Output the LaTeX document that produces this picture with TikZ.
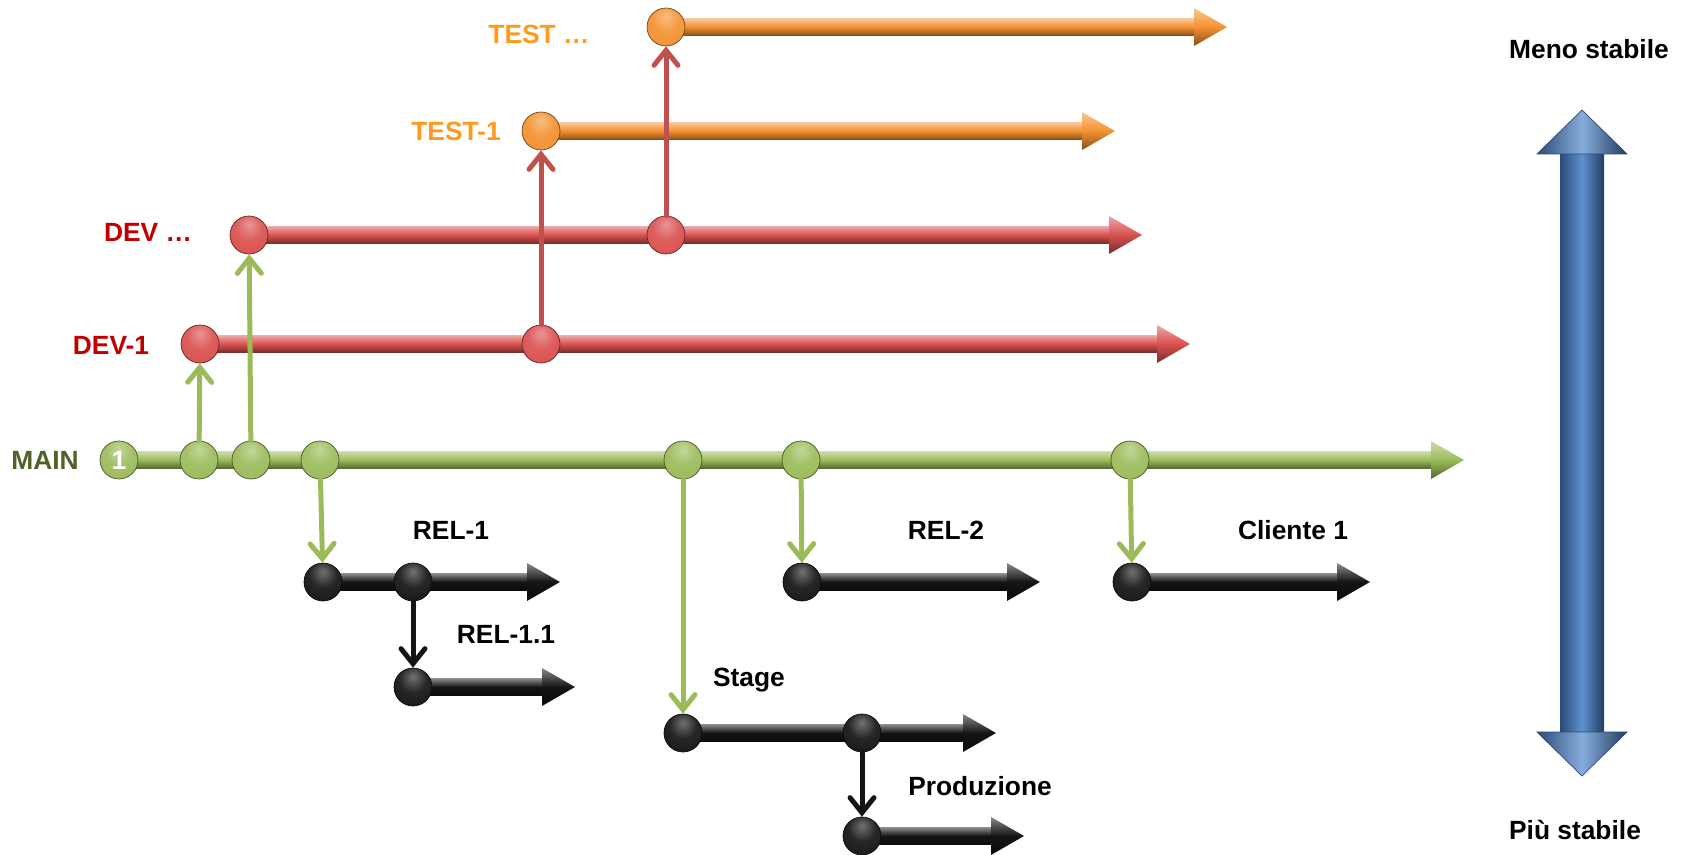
\documentclass[tikz,border=0pt]{standalone}
\usepackage{fontspec}
\setmainfont{Liberation Sans}
\usetikzlibrary{calc, arrows.meta, backgrounds}

\definecolor{mainline}{HTML}{9BBB59}
\definecolor{mainlabel}{HTML}{4F6228}
\definecolor{devline}{HTML}{D9504E}
\definecolor{devlink}{HTML}{C0504D}
\definecolor{devlabel}{HTML}{C00000}
\definecolor{testline}{HTML}{F39130}
\definecolor{testlabel}{HTML}{FF9A1F}
\definecolor{relline}{HTML}{141414}
\definecolor{stableblue}{HTML}{5E91D2}
\definecolor{stabledark}{HTML}{2B4B75}

\makeatletter
\pgfdeclareradialshading[tikz@ball]{commitball}{\pgfqpoint{0bp}{14bp}}{%
	color(0bp)=(tikz@ball!60!white); color(18bp)=(tikz@ball!92!white);
	color(42bp)=(tikz@ball); color(56bp)=(tikz@ball!70!black);
	color(64bp)=(tikz@ball!45!black); color(80bp)=(tikz@ball!45!black)}
\makeatother

\tikzset{
	commit/.style = {circle, minimum size=0.76cm, inner sep=0pt, ball color=#1, shading=commitball, draw=#1!45!black, line width=0.4pt},
	merge/.style = {draw=#1, line width=0.1cm, line cap=round, -{Straight Barb[length=0.3cm, width=0.48cm, line cap=round]}},
	branchlabel/.style = {font=\bfseries\fontsize{15}{18}\selectfont, text=#1},
}

\newcommand{\pipe}[3]{%
	\begin{pgfonlayer}{background}
		\shade [top color=#3!50!white, bottom color=#3!55!black, middle color=#3]
			($(#1)+(0,-8.5)$) rectangle ($(#2)+(-30,8.5)$);
		\shade [top color=#3!50!white, bottom color=#3!55!black, middle color=#3]
			($(#2)+(-33,-19)$) -- (#2) -- ($(#2)+(-33,19)$) -- cycle;
	\end{pgfonlayer}}

\begin{document}
\begin{tikzpicture}[x=0.02cm, y=-0.02cm]
		\useasboundingbox (0,0) rectangle (1685,855);
		
		\begin{scope}
			\node [commit=mainline, text=white, font=\bfseries\fontsize{15}{18}\selectfont] (m1) at (119,460) {1};
			\node [commit=mainline] (m2) at (199,460) {};
			\node [commit=mainline] (m3) at (251,460) {};
			\node [commit=mainline] (m4) at (320,460) {};
			\node [commit=mainline] (m5) at (683,460) {};
			\node [commit=mainline] (m6) at (801,460) {};
			\node [commit=mainline] (m7) at (1130,460) {};
			\coordinate (mainend) at (1464,460);
			\pipe{m1}{mainend}{mainline}
		\end{scope}
		
		\begin{scope}
			\node [commit=devline] (d1a) at (200,344) {};
			\node [commit=devline] (d1b) at (541,344) {};
			\coordinate (dev1end) at (1190,344);
			\pipe{d1a}{dev1end}{devline}
			\node [commit=devline] (d2a) at (249,235) {};
			\node [commit=devline] (d2b) at (666,235) {};
			\coordinate (dev2end) at (1142,235);
			\pipe{d2a}{dev2end}{devline}
		\end{scope}
		
		\begin{scope}
			\node [commit=testline] (t1a) at (541,131) {};
			\coordinate (test1end) at (1115,131);
			\pipe{t1a}{test1end}{testline}
			\node [commit=testline] (t2a) at (666,27) {};
			\coordinate (test2end) at (1227,27);
			\pipe{t2a}{test2end}{testline}
		\end{scope}
		
		\begin{scope}
			\node [commit=relline] (r1a) at (323,582) {};
			\node [commit=relline] (r1b) at (413,582) {};
			\coordinate (rel1end) at (560,582);
			\pipe{r1a}{rel1end}{relline}
			\node [commit=relline] (r2a) at (413,687) {};
			\coordinate (rel11end) at (575,687);
			\pipe{r2a}{rel11end}{relline}
			\node [commit=relline] (r3a) at (802,582) {};
			\coordinate (rel2end) at (1040,582);
			\pipe{r3a}{rel2end}{relline}
			\node [commit=relline] (c1a) at (1132,582) {};
			\coordinate (clienteend) at (1370,582);
			\pipe{c1a}{clienteend}{relline}
			\node [commit=relline] (s1a) at (683,733) {};
			\node [commit=relline] (s1b) at (862,733) {};
			\coordinate (stageend) at (996,733);
			\pipe{s1a}{stageend}{relline}
			\node [commit=relline] (p1a) at (862,836) {};
			\coordinate (prodend) at (1024,836);
			\pipe{p1a}{prodend}{relline}
		\end{scope}
		
		\begin{scope}
			\draw [merge=mainline] (m2) -- (d1a);
			\draw [merge=mainline] (m3) -- (d2a);
			\draw [merge=mainline] (m4) -- (r1a);
			\draw [merge=mainline] (m5) -- (s1a);
			\draw [merge=mainline] (m6) -- (r3a);
			\draw [merge=mainline] (m7) -- (c1a);
			\draw [merge=devlink] (d1b) -- (t1a);
			\draw [merge=devlink] (d2b) -- (t2a);
			\draw [merge=relline] (r1b) -- (r2a);
			\draw [merge=relline] (s1b) -- (p1a);
		\end{scope}
		
		\begin{scope}
			\node [branchlabel=mainlabel] (lmain) at (45,460) {MAIN};
			\node [branchlabel=devlabel] (ldev1) at (111,345) {DEV-1};
			\node [branchlabel=devlabel] (ldev2) at (148,232) {DEV \dots};
			\node [branchlabel=testlabel] (ltest1) at (456,131) {TEST-1};
			\node [branchlabel=testlabel] (ltest2) at (539,34) {TEST \dots};
			\node [branchlabel=black] (lrel1) at (451,530) {REL-1};
			\node [branchlabel=black] (lrel11) at (506,634) {REL-1.1};
			\node [branchlabel=black] (lrel2) at (946,530) {REL-2};
			\node [branchlabel=black] (lcliente) at (1293,530) {Cliente 1};
			\node [branchlabel=black] (lstage) at (749,680) {Stage};
			\node [branchlabel=black] (lprod) at (980,786) {Produzione};
		\end{scope}
		
		\begin{scope}
			\shade [left color=stabledark, right color=stabledark!80!black, middle color=stableblue]
				(1560,150) rectangle (1604,736);
			\shade [left color=stabledark, right color=stabledark!80!black, middle color=stableblue!75!white, draw=stabledark, line width=0.4pt]
				(1582,110) -- (1627,154) -- (1537,154) -- cycle;
			\shade [left color=stabledark, right color=stabledark!80!black, middle color=stableblue!75!white, draw=stabledark, line width=0.4pt]
				(1582,776) -- (1627,732) -- (1537,732) -- cycle;
			\node [branchlabel=black] (lmeno) at (1589,49) {Meno stabile};
			\node [branchlabel=black] (lpiu) at (1575,830) {Più stabile};
		\end{scope}
	\end{tikzpicture}
\end{document}
